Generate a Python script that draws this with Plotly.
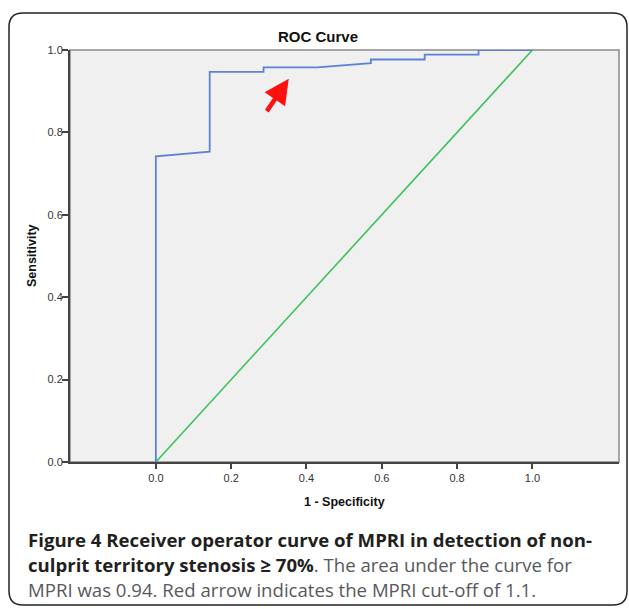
import plotly.graph_objects as go

# ROC curve data (1 - specificity, sensitivity)
fpr = [0.0, 0.0, 0.143, 0.143, 0.286, 0.286, 0.429, 0.571, 0.571, 0.714, 0.714, 0.857, 0.857, 1.0]
tpr = [0.0, 0.742, 0.753, 0.947, 0.947, 0.958, 0.958, 0.968, 0.977, 0.977, 0.989, 0.989, 1.0, 1.0]
ref_x = [0.0, 1.0]
ref_y = [0.0, 1.0]
tick_vals = [0.0, 0.2, 0.4, 0.6, 0.8, 1.0]
tick_text = ["0.0", "0.2", "0.4", "0.6", "0.8", "1.0"]
# cut-off arrow (tip, tail) in data units
arrow_tip = (0.353, 0.93)
arrow_tail = (0.292, 0.848)

W, H = 629, 609
L, R, T, B = 70, 10, 50, 147
pw = W - L - R
ph = H - T - B

def px(x):
    return (x - L) / pw

def py(y):
    return (H - B - y) / ph

fig = go.Figure()
fig.add_trace(go.Scatter(x=ref_x, y=ref_y, mode="lines",
                         line=dict(color="#3dc25a", width=1.6), hoverinfo="skip"))
fig.add_trace(go.Scatter(x=fpr, y=tpr, mode="lines",
                         line=dict(color="#5b82d6", width=1.8), hoverinfo="skip"))

fig.add_annotation(x=arrow_tip[0], y=arrow_tip[1], ax=arrow_tail[0], ay=arrow_tail[1],
                   xref="x", yref="y", axref="x", ayref="y", text="",
                   showarrow=True, arrowhead=2, arrowsize=1.1, arrowwidth=4.5,
                   arrowcolor="#ff1010", standoff=0)

tick_font = dict(family="Liberation Sans, Arial", size=11, color="#333333")
axis_title_font = dict(family="Liberation Sans, Arial", size=12.5, color="#111111")

fig.update_layout(
    width=W, height=H,
    margin=dict(l=L, r=R, t=T, b=B),
    paper_bgcolor="white",
    plot_bgcolor="#f0f0f0",
    showlegend=False,
    xaxis=dict(range=[-0.228, 1.23], tickvals=tick_vals, ticktext=tick_text,
               ticks="outside", ticklen=5, tickwidth=1.5, tickcolor="#444444",
               showline=True, linecolor="#444444", linewidth=2,
               showgrid=False, zeroline=False, tickfont=tick_font),
    yaxis=dict(range=[0, 1], tickvals=tick_vals, ticktext=tick_text,
               ticks="outside", ticklen=6, tickwidth=1.5, tickcolor="#444444",
               ticklabelstandoff=-3,
               showline=True, linecolor="#444444", linewidth=2,
               showgrid=False, zeroline=False, tickfont=tick_font),
)

# plot border (top/right lighter)
fig.add_shape(type="rect", xref="paper", yref="paper", x0=0, x1=1, y0=0, y1=1,
              line=dict(color="#8a8a8a", width=1.5), layer="below")

# rounded outer frame
x0, x1 = px(9), px(627)
yt, yb = py(13), py(605)
rx, ry = 14 / pw, 14 / ph
path = (f"M {x0+rx},{yt} L {x1-rx},{yt} Q {x1},{yt} {x1},{yt-ry} "
        f"L {x1},{yb+ry} Q {x1},{yb} {x1-rx},{yb} L {x0+rx},{yb} "
        f"Q {x0},{yb} {x0},{yb+ry} L {x0},{yt-ry} Q {x0},{yt} {x0+rx},{yt} Z")
fig.add_shape(type="path", xref="paper", yref="paper", path=path,
              line=dict(color="#222222", width=1.5))

fig.add_annotation(x=px(318), y=py(37), xref="paper", yref="paper",
                   xanchor="center", yanchor="middle",
                   text="<b>ROC Curve</b>", showarrow=False,
                   font=dict(family="Liberation Sans, Arial", size=15, color="#111111"))
fig.add_annotation(x=px(32), y=0.5, xref="paper", yref="paper",
                   xanchor="center", yanchor="middle",
                   text="<b>Sensitivity</b>", showarrow=False, textangle=-90,
                   font=axis_title_font)
fig.add_annotation(x=0.5, y=py(502), xref="paper", yref="paper",
                   xanchor="center", yanchor="middle",
                   text="<b>1 - Specificity</b>", showarrow=False,
                   font=axis_title_font)

cap_font = dict(family="Open Sans", size=18.6, color="#231f20")
grey = "#58595b"
lines = [
    "<b>Figure 4 Receiver operator curve of MPRI in detection of non-</b>",
    f"<b>culprit territory stenosis ≥ 70%</b><span style='color:{grey}'>. The area under the curve for</span>",
    f"<span style='color:{grey}'>MPRI was 0.94. Red arrow indicates the MPRI cut-off of 1.1.</span>",
]
for i, t in enumerate(lines):
    fig.add_annotation(x=px(26), y=py(539 + 25 * i), xref="paper", yref="paper",
                       text=t, showarrow=False, xanchor="left", yanchor="middle",
                       align="left", font=cap_font)

fig.write_html("out.html", config={"displayModeBar": False},
               post_script="document.body.style.margin='0px';")
